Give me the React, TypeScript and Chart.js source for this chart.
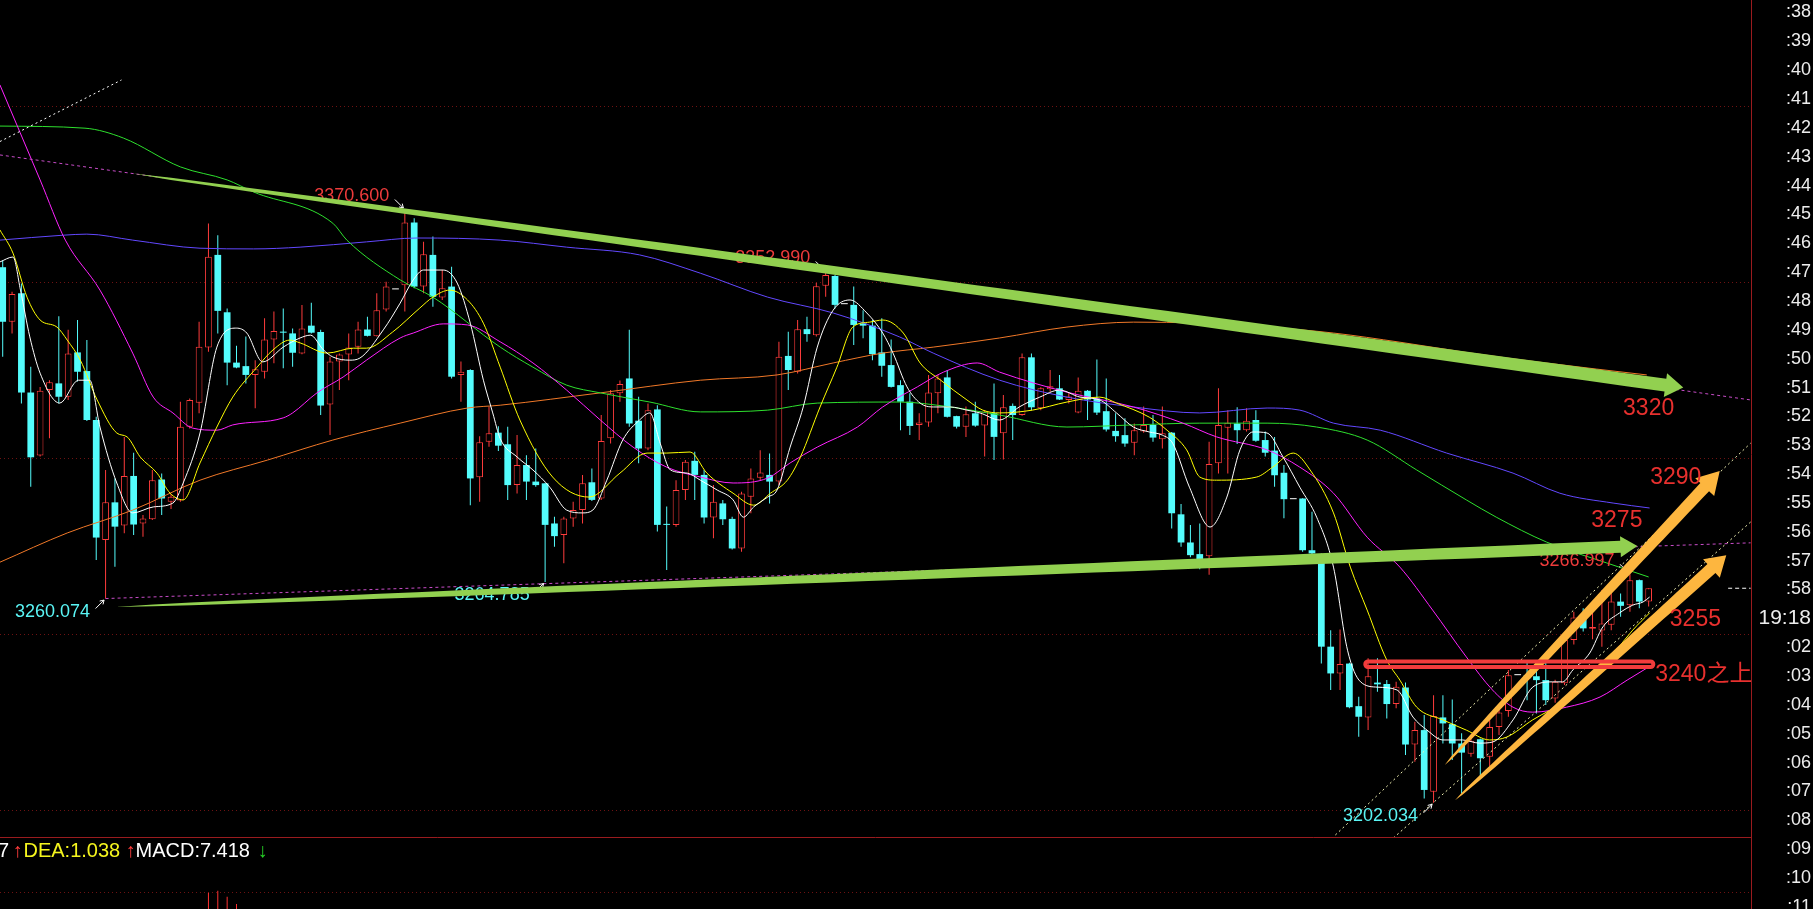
import React, { useEffect, useRef } from 'react';
import { Chart, registerables } from 'chart.js';

Chart.register(...registerables);

type Pt = [number, number];

const W = 1813;
const H = 909;
const FONT = '"Liberation Sans", Arial, "Noto Sans CJK SC", sans-serif';

// ---- candles (index 0 = leftmost bar) ----
const opens = [
  3354.2, 3338.7, 3346.8, 3318.6, 3300.7, 3319.3, 3321.2, 3317.4, 3330.0, 3324.7,
  3310.8, 3276.7, 3287.4, 3280.8, 3294.9, 3281.4, 3282.6, 3293.9, 3287.6, 3287.9,
  3308.9, 3315.7, 3331.4, 3357.7, 3341.4, 3327.1, 3326.1, 3323.6, 3324.5, 3333.7,
  3335.9, 3335.4, 3329.7, 3337.6, 3335.8, 3315.2, 3327.4, 3329.4, 3331.6, 3336.5,
  3334.6, 3342.2, 3347.9, 3349.1, 3366.9, 3348.7, 3357.7, 3345.6, 3348.7, 3323.6,
  3325.0, 3294.5, 3304.6, 3307.2, 3303.9, 3292.3, 3298.0, 3293.3, 3292.8, 3281.4,
  3278.1, 3282.8, 3285.2, 3293.1, 3288.5, 3305.6, 3318.4, 3322.6, 3310.6, 3302.7,
  3313.8, 3281.2, 3281.0, 3290.9, 3299.2, 3295.2, 3283.1, 3287.1, 3282.7, 3274.3,
  3289.0, 3294.4, 3295.2, 3293.3, 3329.0, 3324.5, 3336.6, 3334.9, 3348.9, 3351.7,
  3343.7, 3343.5, 3338.2, 3337.6, 3330.0, 3326.4, 3320.7, 3316.0, 3309.4, 3310.1,
  3318.4, 3322.9, 3311.9, 3308.9, 3312.7, 3309.2, 3312.7, 3307.0, 3314.8, 3312.2,
  3328.6, 3314.1, 3319.5, 3319.8, 3316.5, 3312.9, 3319.1, 3316.9, 3313.3, 3307.7,
  3306.5, 3304.3, 3307.5, 3309.4, 3305.3, 3307.2, 3284.0, 3276.0, 3272.7, 3272.1,
  3298.5, 3308.6, 3309.8, 3307.9, 3310.8, 3305.1, 3302.1, 3295.8, 3288.3, 3288.5,
  3273.8, 3272.0, 3246.4, 3238.8, 3241.6, 3229.5, 3226.3, 3236.2, 3235.8, 3230.1,
  3234.8, 3218.6, 3222.7, 3205.2, 3226.3, 3224.4, 3218.9, 3216.0, 3220.1, 3215.1,
  3223.6, 3228.1, 3238.3, 3238.3, 3238.0, 3236.9, 3231.7, 3236.0, 3248.3, 3254.7,
  3251.5, 3251.0, 3252.6, 3259.2, 3258.2, 3265.3, 3259.2,
];
const highs = [
  3356.2, 3347.2, 3349.6, 3325.9, 3320.2, 3322.1, 3340.3, 3336.4, 3339.2, 3333.5,
  3311.7, 3296.6, 3294.2, 3306.0, 3301.5, 3283.8, 3296.6, 3295.6, 3289.8, 3316.0,
  3316.9, 3338.7, 3366.6, 3363.3, 3342.5, 3331.9, 3334.5, 3327.8, 3339.7, 3341.6,
  3342.5, 3336.8, 3343.5, 3344.1, 3336.4, 3328.8, 3329.7, 3335.4, 3338.7, 3340.1,
  3346.8, 3350.1, 3347.9, 3370.6, 3368.1, 3361.4, 3362.9, 3353.4, 3354.3, 3327.4,
  3325.2, 3306.2, 3314.6, 3309.0, 3308.9, 3306.5, 3300.8, 3302.7, 3293.0, 3283.3,
  3283.3, 3287.6, 3295.2, 3297.0, 3312.2, 3319.3, 3322.0, 3336.4, 3317.4, 3315.5,
  3315.0, 3286.2, 3293.7, 3299.4, 3301.8, 3296.6, 3292.3, 3288.1, 3283.3, 3290.4,
  3297.0, 3302.2, 3301.3, 3333.0, 3335.9, 3339.2, 3340.1, 3349.8, 3352.99, 3352.0,
  3343.7, 3348.7, 3342.0, 3339.2, 3339.7, 3333.7, 3322.1, 3318.4, 3312.7, 3323.6,
  3323.6, 3325.0, 3312.0, 3314.6, 3316.0, 3313.6, 3321.2, 3317.9, 3315.5, 3329.7,
  3329.7, 3320.1, 3325.0, 3323.6, 3318.5, 3322.9, 3319.3, 3328.0, 3322.6, 3312.7,
  3311.3, 3309.8, 3314.6, 3312.2, 3314.6, 3307.4, 3286.9, 3281.0, 3281.4, 3304.6,
  3319.8, 3313.6, 3314.4, 3314.1, 3313.6, 3307.5, 3306.0, 3298.0, 3288.3, 3288.6,
  3284.7, 3272.9, 3251.1, 3251.3, 3241.8, 3232.2, 3243.1, 3243.1, 3236.9, 3236.4,
  3236.2, 3225.1, 3227.0, 3232.6, 3232.6, 3231.4, 3221.8, 3220.8, 3220.3, 3227.0,
  3229.8, 3239.8, 3238.3, 3242.1, 3242.1, 3244.3, 3237.0, 3249.2, 3256.3, 3257.3,
  3256.0, 3262.5, 3263.4, 3261.5, 3266.997, 3265.5, 3263.0,
];
const lows = [
  3328.8, 3335.4, 3315.5, 3291.8, 3300.4, 3305.6, 3315.5, 3316.5, 3321.7, 3310.5,
  3271.0, 3260.074, 3269.1, 3278.6, 3278.1, 3277.6, 3282.4, 3283.8, 3285.5, 3287.6,
  3308.4, 3312.7, 3330.2, 3335.4, 3320.7, 3325.5, 3321.2, 3314.1, 3322.6, 3326.9,
  3325.5, 3325.9, 3329.5, 3335.4, 3312.2, 3306.5, 3319.3, 3322.1, 3329.7, 3334.5,
  3334.5, 3341.6, 3347.9, 3341.6, 3348.2, 3346.8, 3343.0, 3344.9, 3322.6, 3316.0,
  3286.6, 3287.6, 3303.2, 3302.0, 3288.1, 3289.9, 3288.1, 3291.8, 3264.785, 3274.8,
  3270.1, 3280.5, 3281.4, 3287.8, 3288.1, 3304.1, 3316.0, 3308.9, 3298.5, 3302.2,
  3279.1, 3268.2, 3280.5, 3288.1, 3288.1, 3281.4, 3277.2, 3281.0, 3274.0, 3273.4,
  3284.3, 3293.7, 3287.1, 3292.3, 3319.3, 3324.0, 3333.0, 3334.5, 3345.8, 3342.5,
  3343.7, 3332.1, 3334.0, 3327.8, 3323.1, 3320.0, 3307.9, 3306.5, 3305.1, 3308.9,
  3312.7, 3311.5, 3308.4, 3306.0, 3308.9, 3300.4, 3299.4, 3299.6, 3305.1, 3312.0,
  3313.6, 3313.6, 3318.8, 3316.5, 3315.5, 3312.7, 3310.8, 3312.2, 3307.5, 3304.6,
  3303.2, 3300.8, 3307.2, 3304.6, 3302.7, 3280.0, 3274.8, 3271.8, 3268.4, 3266.8,
  3295.6, 3295.6, 3304.0, 3307.5, 3304.6, 3300.4, 3291.8, 3282.9, 3288.3, 3273.4,
  3271.9, 3241.6, 3234.1, 3234.1, 3228.9, 3220.8, 3222.7, 3233.6, 3226.0, 3228.9,
  3215.6, 3213.7, 3203.3, 3202.034, 3218.9, 3214.2, 3204.7, 3215.1, 3209.4, 3212.3,
  3221.3, 3226.5, 3238.3, 3231.2, 3227.4, 3229.8, 3230.5, 3235.5, 3247.0, 3250.7,
  3248.5, 3246.4, 3251.1, 3254.9, 3256.3, 3257.3, 3257.8,
];
const closes = [
  3338.7, 3346.6, 3318.6, 3300.2, 3319.1, 3321.5, 3317.4, 3329.7, 3324.5, 3310.8,
  3277.4, 3287.4, 3280.5, 3294.9, 3281.1, 3282.8, 3293.7, 3288.5, 3289.0, 3308.9,
  3316.5, 3331.6, 3357.2, 3341.8, 3327.1, 3325.7, 3323.6, 3325.2, 3333.7, 3336.1,
  3335.6, 3329.9, 3336.8, 3335.6, 3314.9, 3327.4, 3329.4, 3331.4, 3336.5, 3334.7,
  3342.0, 3348.7, 3347.9, 3366.9, 3348.7, 3357.9, 3345.8, 3348.2, 3323.1, 3324.5,
  3294.2, 3304.5, 3307.0, 3303.5, 3292.3, 3298.0, 3293.3, 3292.3, 3281.0, 3277.8,
  3282.8, 3285.2, 3292.8, 3288.1, 3304.8, 3318.4, 3321.0, 3309.8, 3302.7, 3313.6,
  3281.0, 3281.0, 3290.9, 3298.9, 3295.2, 3283.1, 3287.6, 3282.6, 3274.3, 3289.9,
  3294.2, 3295.9, 3293.3, 3328.8, 3325.0, 3336.6, 3335.2, 3348.8, 3352.0, 3343.5,
  3343.7, 3337.8, 3337.6, 3329.5, 3326.2, 3320.2, 3316.0, 3309.1, 3310.1, 3318.6,
  3322.6, 3311.7, 3308.9, 3312.4, 3309.2, 3313.2, 3306.0, 3314.4, 3312.2, 3328.6,
  3314.4, 3319.8, 3320.4, 3316.6, 3317.5, 3319.1, 3316.6, 3312.9, 3308.1, 3306.2,
  3304.1, 3307.9, 3309.4, 3305.8, 3307.0, 3284.3, 3276.0, 3272.4, 3271.2, 3298.3,
  3309.4, 3310.0, 3307.9, 3310.6, 3304.9, 3301.5, 3295.1, 3288.3, 3288.3, 3273.8,
  3272.9, 3246.4, 3238.8, 3241.5, 3229.2, 3226.5, 3238.0, 3235.7, 3230.1, 3235.0,
  3218.6, 3222.7, 3205.7, 3226.7, 3224.6, 3218.9, 3216.3, 3219.7, 3214.7, 3223.6,
  3227.7, 3238.3, 3238.3, 3237.4, 3236.9, 3231.2, 3236.4, 3248.3, 3254.7, 3251.6,
  3252.0, 3253.0, 3259.2, 3258.0, 3265.3, 3259.2, 3263.0,
];

// ---- moving averages, [bar index, price] ----
const ma5: Pt[] = [
  [-0.3, 3355.7], [1.1, 3357.1], [1.9, 3347.7], [2.9, 3334.4], [4.0, 3324.1], [6.1, 3315.6], [8.1, 3322.1], [9.3, 3322.1],
  [10.4, 3308.8], [12.2, 3292.9], [13.9, 3284.4], [16.1, 3286.1], [18.2, 3287.2], [19.3, 3292.9], [21.1, 3307.1], [22.9, 3331.5],
  [25.0, 3336.9], [26.1, 3335.5], [27.8, 3327.3], [30.0, 3331.5], [31.8, 3334.1], [32.9, 3334.9], [34.3, 3330.7], [35.3, 3328.7],
  [37.1, 3327.8], [38.2, 3328.4], [40.7, 3336.4], [42.5, 3344.0], [43.9, 3350.6], [45.0, 3353.4], [47.1, 3353.4], [48.6, 3349.7],
  [50.0, 3338.3], [51.4, 3322.1], [52.4, 3312.8], [53.2, 3305.5], [55.0, 3300.3], [56.7, 3296.6], [58.5, 3291.7], [60.3, 3285.2],
  [62.0, 3284.4], [63.1, 3285.2], [64.6, 3293.7], [66.3, 3305.1], [68.1, 3310.8], [69.2, 3312.8], [70.3, 3304.2], [71.4, 3296.6],
  [73.2, 3295.7], [74.6, 3293.7], [76.4, 3290.9], [78.1, 3288.1], [79.2, 3283.2], [80.3, 3286.1], [81.8, 3288.9], [82.8, 3290.9],
  [84.2, 3303.1], [85.6, 3314.5], [87.1, 3331.5], [88.8, 3342.0], [90.6, 3344.9], [92.4, 3341.2], [94.1, 3335.5], [95.2, 3329.8],
  [96.7, 3320.2], [98.1, 3315.6], [99.5, 3314.5], [101.3, 3314.5], [103.1, 3313.6], [104.5, 3312.8], [106.6, 3310.8], [108.7, 3314.5],
  [110.9, 3317.3], [113.0, 3319.3], [115.2, 3317.3], [117.3, 3316.5], [119.1, 3312.8], [120.9, 3308.8], [122.6, 3307.4], [124.0, 3306.5],
  [125.1, 3304.2], [126.9, 3291.7], [129.1, 3280.4], [130.9, 3288.9], [132.3, 3302.3], [133.7, 3307.4], [135.2, 3307.1], [136.9, 3300.3],
  [138.7, 3291.7], [140.5, 3283.2], [142.3, 3269.0], [143.8, 3245.4], [145.2, 3236.4], [147.0, 3234.9], [149.1, 3234.1], [150.8, 3226.4],
  [152.3, 3222.7], [154.0, 3219.9], [156.1, 3219.9], [157.9, 3219.0], [159.3, 3219.3], [161.5, 3225.6], [163.6, 3234.9], [165.7, 3236.4],
  [166.8, 3236.4], [167.9, 3239.8], [169.7, 3244.6], [171.1, 3252.0], [172.9, 3256.0], [174.3, 3258.2], [175.4, 3259.1], [176.1, 3260.5],
];
const ma10: Pt[] = [
  [-0.3, 3364.8], [1.1, 3358.2], [2.6, 3345.7], [4.0, 3339.2], [5.8, 3337.2], [6.9, 3333.5], [8.3, 3327.8], [10.1, 3316.5],
  [12.2, 3307.1], [13.3, 3306.0], [14.7, 3300.3], [16.5, 3295.7], [17.9, 3290.0], [19.3, 3288.1], [21.1, 3298.6], [22.9, 3308.8],
  [24.6, 3317.3], [27.2, 3325.8], [28.9, 3330.7], [30.7, 3333.5], [31.8, 3332.7], [34.7, 3329.8], [37.5, 3331.2], [38.9, 3331.2],
  [41.7, 3335.8], [44.6, 3342.6], [46.0, 3345.7], [47.8, 3347.7], [49.7, 3344.9], [51.4, 3338.3], [53.2, 3325.8], [55.3, 3310.8],
  [58.8, 3294.6], [62.7, 3288.9], [66.0, 3295.7], [68.9, 3301.4], [71.0, 3301.4], [73.5, 3301.7], [75.3, 3295.7], [78.1, 3290.0],
  [80.3, 3286.6], [82.1, 3290.0], [83.9, 3293.7], [85.3, 3300.3], [87.4, 3314.5], [89.2, 3325.8], [90.9, 3337.2], [92.7, 3338.6],
  [94.1, 3339.2], [96.3, 3335.5], [98.1, 3327.0], [100.3, 3322.1], [103.1, 3316.5], [104.8, 3313.6], [106.6, 3312.8], [110.1, 3313.6],
  [113.8, 3315.9], [117.3, 3317.3], [119.1, 3315.6], [122.6, 3311.6], [124.5, 3307.9], [126.6, 3302.3], [128.0, 3294.6], [129.8, 3293.7],
  [134.1, 3294.6], [135.8, 3297.4], [138.0, 3301.4], [139.8, 3296.6], [142.3, 3284.4], [144.1, 3269.0], [145.9, 3256.8], [148.0, 3242.6],
  [149.4, 3236.9], [151.2, 3229.2], [154.0, 3225.6], [156.5, 3222.7], [159.0, 3219.9], [160.8, 3220.7], [163.6, 3225.6], [167.2, 3231.2],
  [170.8, 3239.8], [174.3, 3251.1], [176.1, 3256.0],
];
const ma20: Pt[] = [
  [-0.3, 3406.0], [4.0, 3379.0], [6.7, 3361.9], [10.4, 3347.7], [13.9, 3329.8], [16.1, 3317.3], [18.2, 3312.8], [20.3, 3308.5],
  [22.9, 3307.9], [24.6, 3309.4], [30.0, 3311.4], [31.0, 3312.8], [33.6, 3318.5], [36.4, 3323.0], [38.9, 3327.8], [42.5, 3334.1],
  [43.9, 3335.5], [47.1, 3338.1], [49.7, 3337.8], [53.2, 3333.0], [56.7, 3327.0], [60.3, 3319.3], [63.9, 3310.8], [67.4, 3303.1],
  [71.0, 3297.4], [74.6, 3294.6], [78.1, 3292.9], [81.8, 3294.3], [84.2, 3298.6], [87.1, 3303.1], [91.4, 3308.8], [94.1, 3314.5],
  [97.8, 3320.2], [100.6, 3324.4], [104.2, 3327.0], [106.6, 3324.4], [113.8, 3318.7], [120.9, 3314.5], [126.2, 3309.9], [129.8, 3306.0],
  [135.2, 3302.3], [138.7, 3297.4], [142.3, 3290.0], [145.9, 3277.5], [149.4, 3269.0], [152.9, 3256.8], [156.5, 3243.5], [159.3, 3234.1],
  [161.5, 3229.2], [163.6, 3227.8], [167.2, 3229.2], [170.8, 3232.1], [173.7, 3236.9], [175.8, 3240.3],
];
const ma60: Pt[] = [
  [-0.3, 3394.3], [8.8, 3393.7], [12.9, 3390.9], [19.0, 3382.7], [24.0, 3379.0], [26.8, 3375.6], [35.3, 3366.7], [36.8, 3361.9],
  [42.5, 3350.6], [46.0, 3345.7], [53.2, 3331.5], [56.7, 3325.8], [60.3, 3320.7], [63.9, 3318.5], [69.2, 3315.9], [74.6, 3313.1],
  [81.8, 3313.6], [87.1, 3315.6], [95.9, 3315.9], [101.3, 3314.5], [106.6, 3312.2], [113.8, 3308.8], [120.9, 3309.4], [128.0, 3309.9],
  [135.2, 3309.9], [140.5, 3308.8], [145.9, 3305.1], [151.2, 3296.6], [156.5, 3288.1], [159.7, 3283.2], [165.1, 3276.1], [171.5, 3270.2],
  [176.0, 3266.2],
];
const ma120: Pt[] = [
  [-0.3, 3361.9], [6.5, 3363.3], [9.0, 3363.6], [13.9, 3361.9], [21.1, 3359.6], [26.8, 3359.4], [31.8, 3359.9], [38.9, 3361.4],
  [44.3, 3362.5], [53.2, 3361.9], [60.3, 3359.9], [68.1, 3357.7], [74.6, 3352.5], [81.8, 3345.7], [88.8, 3341.2], [95.9, 3334.4],
  [99.5, 3329.8], [106.6, 3322.1], [113.8, 3317.3], [120.9, 3314.5], [128.0, 3312.8], [135.2, 3314.2], [138.7, 3313.6], [142.3, 3309.9],
  [147.3, 3307.9], [154.4, 3301.4], [161.5, 3295.7], [166.5, 3290.0], [172.2, 3287.2], [176.1, 3285.8],
];
const ma250: Pt[] = [
  [-0.3, 3270.4], [6.9, 3278.7], [13.9, 3285.2], [21.1, 3293.7], [28.3, 3299.4], [35.3, 3305.1], [42.5, 3309.9], [49.7, 3314.2],
  [53.2, 3315.0], [63.9, 3318.5], [74.6, 3322.1], [82.8, 3323.6], [88.8, 3327.0], [94.1, 3329.8], [99.5, 3331.5], [106.6, 3334.1],
  [113.8, 3337.2], [120.9, 3338.6], [128.0, 3338.3], [135.2, 3337.2], [142.3, 3335.5], [149.4, 3332.9], [156.5, 3330.0], [165.0, 3327.0],
  [175.8, 3323.6],
];

// ---- drawn trend lines, [bar index, price] end points ----
const shortGuide: Pt[] = [[-0.3, 3389.9], [12.7, 3407.4]];
const highsGuide: Pt[] = [[-0.3, 3386.1], [186.9, 3316.5]];
const lowsGuide: Pt[] = [[11, 3260.074], [186.9, 3275.9]];
const channelTop: Pt[] = [[142.5, 3192.9], [186.9, 3304.2]];
const channelBottom: Pt[] = [[148.7, 3192.05], [186.9, 3281.8]];

const resistanceArrow: Pt[] = [[13.9, 3380.8], [179.7, 3320]];
const supportArrow: Pt[] = [[12.1, 3257.7], [174.8, 3275]];
const riseArrowUpper: Pt[] = [[154.2, 3212.8], [183.6, 3296.3]];
const riseArrowLower: Pt[] = [[155.3, 3202.8], [184.3, 3272.4]];

// swing points that carry a value tag: [bar index, 'high' | 'low']
const swingPoints: [number, 'high' | 'low'][] = [
  [43, 'high'], [88, 'high'], [174, 'high'], [11, 'low'], [58, 'low'], [153, 'low'],
];

// target levels and where their captions sit
const targetTexts = ['3320', '3290', '3275', '3255', '3240之上'];
const targetSpots: Pt[] = [[176.0, 3313.9], [178.9, 3294.4], [172.6, 3282.1], [181.0, 3254.0], [181.9, 3238.4]];
const zoneBars: Pt = [145.7, 176.5];
const zonePrices: Pt = [3240.6, 3242.2];

const gridPrices = [3400, 3350, 3300, 3250, 3200];

// ---- MACD pane ----
const macdIndex = [22, 23, 24, 25];
const macdValues = [1.63, 1.83, 1.23, 0.5];
const macdGrid = 1.7;
const macdTexts = ['7', '↑', 'DEA:1.038', '↑', 'MACD:7.418', '↓'];

// ---- right column labels ----
const timeLabels = [
  ':38', ':39', ':40', ':41', ':42', ':43', ':44', ':45', ':46', ':47', ':48', ':49', ':50', ':51', ':52', ':53',
  ':54', ':55', ':56', ':57', ':58', '19:18', ':02', ':03', ':04', ':05', ':06', ':07', ':08', ':09', ':10', ':11',
];

const UP = '#ff3c3c';
const DOWN = '#54fcfc';
const FLAT = '#ffffff';
const candleColor = (i: number) => (closes[i] > opens[i] ? UP : closes[i] < opens[i] ? DOWN : FLAT);

const idx = opens.map((_, i) => i);
const toXY = (pts: Pt[]) => pts.map(([x, y]) => ({ x, y }));

function taperedArrow(
  ctx: CanvasRenderingContext2D, x0: number, y0: number, x1: number, y1: number,
  maxW: number, headLen: number, headHalf: number, color: string,
) {
  const dx = x1 - x0, dy = y1 - y0;
  const len = Math.hypot(dx, dy);
  const ux = dx / len, uy = dy / len;
  const nx = -uy, ny = ux;
  const shaft = len - headLen;
  const left: Pt[] = [], right: Pt[] = [];
  const N = 40;
  for (let k = 0; k <= N; k++) {
    const t = k / N;
    const s = t * shaft;
    const w = (maxW * Math.sqrt(t)) / 2;
    const cx = x0 + ux * s, cy = y0 + uy * s;
    left.push([cx + nx * w, cy + ny * w]);
    right.push([cx - nx * w, cy - ny * w]);
  }
  const bx = x0 + ux * shaft, by = y0 + uy * shaft;
  ctx.beginPath();
  ctx.moveTo(left[0][0], left[0][1]);
  for (const p of left) ctx.lineTo(p[0], p[1]);
  ctx.lineTo(bx + nx * headHalf, by + ny * headHalf);
  ctx.lineTo(x1, y1);
  ctx.lineTo(bx - nx * headHalf, by - ny * headHalf);
  for (let k = right.length - 1; k >= 0; k--) ctx.lineTo(right[k][0], right[k][1]);
  ctx.closePath();
  ctx.fillStyle = color;
  ctx.fill();
}

function pointer(ctx: CanvasRenderingContext2D, x0: number, y0: number, x1: number, y1: number) {
  const a = Math.atan2(y1 - y0, x1 - x0);
  ctx.beginPath();
  ctx.moveTo(x0, y0);
  ctx.lineTo(x1, y1);
  for (const s of [-1, 1]) {
    ctx.moveTo(x1, y1);
    ctx.lineTo(x1 - 4.5 * Math.cos(a + s * 0.55), y1 - 4.5 * Math.sin(a + s * 0.55));
  }
  ctx.stroke();
}

const overlay = {
  id: 'marketOverlay',
  beforeDraw(chart: any) {
    const { ctx } = chart;
    ctx.save();
    ctx.fillStyle = '#000';
    ctx.fillRect(0, 0, chart.width, chart.height);
    ctx.restore();
  },
  beforeDatasetsDraw(chart: any) {
    const { ctx, chartArea } = chart;
    const y = chart.scales.y;
    const m = chart.scales.yMacd;
    ctx.save();
    ctx.strokeStyle = '#6e1212';
    ctx.lineWidth = 1;
    ctx.setLineDash([1, 3]);
    for (const p of gridPrices) {
      const py = Math.round(y.getPixelForValue(p)) + 0.5;
      ctx.beginPath();
      ctx.moveTo(chartArea.left, py);
      ctx.lineTo(chartArea.right, py);
      ctx.stroke();
    }
    const my = Math.round(m.getPixelForValue(macdGrid)) + 0.5;
    ctx.beginPath();
    ctx.moveTo(chartArea.left, my);
    ctx.lineTo(chartArea.right, my);
    ctx.stroke();
    ctx.restore();
  },
  afterDatasetsDraw(chart: any) {
    const { ctx, chartArea } = chart;
    const xs = chart.scales.x;
    const ys = chart.scales.y;
    const ms = chart.scales.yMacd;
    const P = (p: Pt): Pt => [xs.getPixelForValue(p[0]), ys.getPixelForValue(p[1])];

    ctx.save();
    ctx.beginPath();
    ctx.rect(chartArea.left, chartArea.top, chartArea.right - chartArea.left, ms.top - chartArea.top);
    ctx.clip();

    // value tags at swing highs / lows
    ctx.font = `18px ${FONT}`;
    ctx.textAlign = 'center';
    ctx.textBaseline = 'middle';
    ctx.lineWidth = 1;
    for (const [i, side] of swingPoints) {
      const v = side === 'high' ? highs[i] : lows[i];
      const [ax, ay] = P([i, v]);
      const d = side === 'high' ? -1 : 1;
      ctx.fillStyle = side === 'high' ? '#ee3b3b' : '#5af5f5';
      ctx.fillText(v.toFixed(3), ax - 53, ay + d * 13);
      ctx.strokeStyle = '#ffffff';
      pointer(ctx, ax - 10, ay + d * 10, ax - 1.5, ay + d * 1.5);
    }

    // hand-drawn trend arrows
    const arrows: [Pt[], string, number, number, number][] = [
      [resistanceArrow, '#92d050', 13, 18, 12],
      [supportArrow, '#92d050', 12, 17, 10.5],
      [riseArrowUpper, '#fdb63f', 12, 22, 13],
      [riseArrowLower, '#fdb63f', 12, 20, 12.5],
    ];
    for (const [pts, color, w, hl, hh] of arrows) {
      const a = P(pts[0]);
      const b = P(pts[1]);
      taperedArrow(ctx, a[0], a[1], b[0], b[1], w, hl, hh, color);
    }

    // support zone frame
    const zx0 = xs.getPixelForValue(zoneBars[0]);
    const zx1 = xs.getPixelForValue(zoneBars[1]);
    const zy0 = ys.getPixelForValue(zonePrices[1]);
    const zy1 = ys.getPixelForValue(zonePrices[0]);
    ctx.strokeStyle = '#f23c3c';
    ctx.lineWidth = 4;
    ctx.beginPath();
    ctx.roundRect(zx0, zy0, zx1 - zx0, zy1 - zy0, 3);
    ctx.stroke();

    // target captions
    ctx.font = `23px ${FONT}`;
    ctx.fillStyle = '#e8302e';
    targetTexts.forEach((t, k) => {
      const [tx, ty] = P(targetSpots[k]);
      ctx.fillText(t, tx, ty);
    });
    ctx.restore();

    // pane borders
    ctx.save();
    ctx.strokeStyle = '#9a1b1e';
    ctx.lineWidth = 1;
    const hy = Math.round(ms.top) - 0.5;
    ctx.beginPath();
    ctx.moveTo(chartArea.left, hy);
    ctx.lineTo(chartArea.right, hy);
    ctx.stroke();
    const vx = Math.round(chartArea.right) + 0.5;
    ctx.beginPath();
    ctx.moveTo(vx, 0);
    ctx.lineTo(vx, chart.height);
    ctx.stroke();

    // MACD legend line
    const ty = ms.top + 13;
    const colors = ['#ffffff', '#ff3c3c', '#f5f51e', '#ff3c3c', '#ffffff', '#25d025'];
    const xsPos = [-2, 17.5, 23.5, 130.5, 135.5, 262.5];
    ctx.font = `20px ${FONT}`;
    ctx.textBaseline = 'middle';
    macdTexts.forEach((t, k) => {
      const arrow = t === '↑' || t === '↓';
      ctx.textAlign = arrow ? 'center' : 'left';
      ctx.fillStyle = colors[k];
      ctx.fillText(t, xsPos[k], ty);
    });
    ctx.restore();
  },
};

const noPad = (s: any) => {
  s.paddingTop = 0;
  s.paddingBottom = 0;
  s.paddingLeft = 0;
  s.paddingRight = 0;
};

export default function App() {
  const ref = useRef<HTMLCanvasElement>(null);

  useEffect(() => {
    const canvas = ref.current;
    if (!canvas) return;
    Chart.defaults.font.family = FONT;

    const lineDs = (id: string, pts: Pt[], color: string, order: number, dash: number[] = []) => ({
      type: 'line' as const,
      label: id,
      data: toXY(pts),
      borderColor: color,
      borderWidth: 1,
      borderDash: dash,
      pointRadius: 0,
      cubicInterpolationMode: 'monotone' as const,
      fill: false,
      order,
      xAxisID: 'x',
      yAxisID: 'y',
    });

    const chart = new Chart(canvas, {
      type: 'bar',
      data: {
        datasets: [
          {
            label: 'wick',
            data: idx.map((i) => ({ x: i, y: [lows[i], highs[i]] })) as any,
            backgroundColor: idx.map(candleColor),
            borderWidth: 0,
            grouped: false,
            maxBarThickness: 1,
            inflateAmount: 0,
            order: 30,
            xAxisID: 'x',
            yAxisID: 'y',
          },
          {
            label: 'body',
            data: idx.map((i) => ({ x: i, y: [opens[i], closes[i]] })) as any,
            backgroundColor: idx.map((i) => (closes[i] > opens[i] ? '#000000' : candleColor(i))),
            borderColor: idx.map(candleColor),
            borderWidth: idx.map((i) => (closes[i] > opens[i] ? 1 : 0)),
            borderSkipped: false,
            grouped: false,
            maxBarThickness: 7,
            minBarLength: 1,
            inflateAmount: 0,
            order: 29,
            xAxisID: 'x',
            yAxisID: 'y',
          },
          {
            label: 'macd',
            data: macdIndex.map((x, k) => ({ x, y: [0, macdValues[k]] })) as any,
            backgroundColor: '#ff3232',
            borderWidth: 0,
            grouped: false,
            maxBarThickness: 1,
            inflateAmount: 0,
            order: 28,
            xAxisID: 'x',
            yAxisID: 'yMacd',
          },
          lineDs('MA250', ma250, '#f07828', 16),
          lineDs('MA120', ma120, '#6248ff', 15),
          lineDs('MA60', ma60, '#2ee02e', 14),
          lineDs('MA20', ma20, '#ff22ff', 13),
          lineDs('MA10', ma10, '#ffff00', 12),
          lineDs('MA5', ma5, '#ffffff', 11),
          lineDs('guide1', shortGuide, '#ffffff', 9, [2, 3]),
          lineDs('guide2', highsGuide, '#c84cc8', 9, [3, 3]),
          lineDs('guide3', lowsGuide, '#c84cc8', 9, [3, 3]),
          lineDs('guide4', channelTop, '#f4f4b4', 9, [2, 3]),
          lineDs('guide5', channelBottom, '#f4f4b4', 9, [2, 3]),
          lineDs('last', [[184.5, closes[closes.length - 1]], [186.9, closes[closes.length - 1]]], '#ffffff', 9, [4, 3]),
        ] as any,
      },
      options: {
        responsive: false,
        animation: false,
        devicePixelRatio: 1,
        events: [],
        layout: { padding: { left: 0, top: 0, bottom: 0, right: 2 } },
        plugins: {
          legend: { display: false },
          tooltip: { enabled: false },
          title: { display: false },
        },
        scales: {
          x: {
            type: 'linear',
            min: -0.2887,
            max: 186.944,
            offset: false,
            display: false,
            afterFit: noPad,
          },
          y: {
            type: 'linear',
            position: 'left',
            stack: 'panes',
            stackWeight: 838,
            weight: 2,
            stacked: false,
            min: 3192.046,
            max: 3430.114,
            display: false,
            afterFit: (s: any) => { s.width = 0; noPad(s); },
          },
          yMacd: {
            type: 'linear',
            position: 'left',
            stack: 'panes',
            stackWeight: 71,
            weight: 1,
            stacked: false,
            min: 0,
            max: 7.1,
            display: false,
            afterFit: (s: any) => { s.width = 0; noPad(s); },
          },
          yTime: {
            type: 'linear',
            position: 'right',
            reverse: true,
            min: -0.4333,
            max: 31.074,
            bounds: 'data',
            grid: { display: false, drawTicks: false },
            border: { display: false },
            afterBuildTicks: (s: any) => { s.ticks = timeLabels.map((_, i) => ({ value: i })); },
            afterFit: (s: any) => { s.width = 60; noPad(s); },
            ticks: {
              autoSkip: false,
              crossAlign: 'far',
              padding: 0,
              color: '#ededed',
              font: (c: any) => ({ family: FONT, size: c.index === 21 ? 21 : 18 }),
              callback: (_v: any, i: number) => timeLabels[i],
            },
          },
        } as any,
      },
      plugins: [overlay],
    });

    return () => chart.destroy();
  }, []);

  return (
    <div style={{ position: 'fixed', left: 0, top: 0, width: W, height: H, background: '#000' }}>
      <canvas ref={ref} width={W} height={H} style={{ display: 'block', width: W, height: H }} />
    </div>
  );
}
